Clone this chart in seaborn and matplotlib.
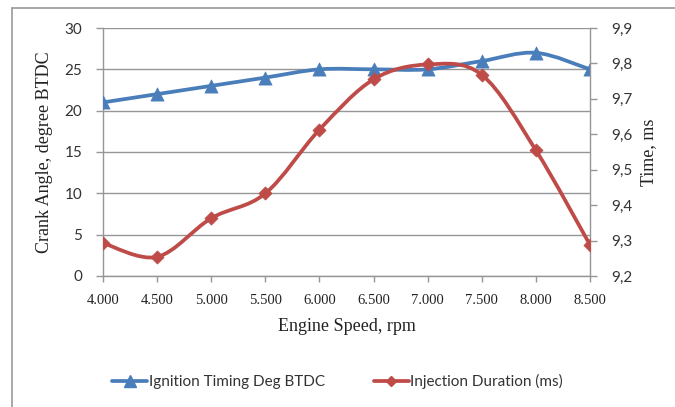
import numpy as np
import pandas as pd
import matplotlib
matplotlib.use("Agg")
import matplotlib.pyplot as plt
import seaborn as sns
from matplotlib.path import Path
from matplotlib.patches import PathPatch
from matplotlib.lines import Line2D

# ---- data ----
engine_speed = [4000, 4500, 5000, 5500, 6000, 6500, 7000, 7500, 8000, 8500]
speed_labels = ["4.000", "4.500", "5.000", "5.500", "6.000", "6.500", "7.000", "7.500", "8.000", "8.500"]
ignition_timing = [21, 22, 23, 24, 25, 25, 25, 26, 27, 25]
injection_duration = [9.293, 9.254, 9.363, 9.433, 9.613, 9.755, 9.797, 9.768, 9.555, 9.288]
left_ticks = [0, 5, 10, 15, 20, 25, 30]
right_ticks = [9.2, 9.3, 9.4, 9.5, 9.6, 9.7, 9.8, 9.9]
right_labels = ["9,2", "9,3", "9,4", "9,5", "9,6", "9,7", "9,8", "9,9"]

df = pd.DataFrame({"speed": engine_speed, "ign": ignition_timing, "inj": injection_duration})

BLUE = "#4A7EBB"
RED = "#BE4B48"
GRID = "#969696"
SERIF = "Liberation Serif"
SANS = "Lato"

sns.set_theme(style="white")
plt.rcParams["font.family"] = ["Liberation Serif", "DejaVu Sans"]

fig = plt.figure(figsize=(6.75, 4.07), dpi=100)
ax = fig.add_axes([0.1526, 0.3219, 0.874 - 0.1526, 0.9312 - 0.3219])
ax2 = ax.twinx()


def smooth_path(ax_, xs, ys, color, lw, z):
    xs = np.asarray(xs, float)
    ys = np.asarray(ys, float)
    pts = np.column_stack([xs, ys])
    n = len(pts)
    verts = [pts[0]]
    codes = [Path.MOVETO]
    for i in range(n - 1):
        p0 = pts[max(i - 1, 0)]
        p1 = pts[i]
        p2 = pts[i + 1]
        p3 = pts[min(i + 2, n - 1)]
        c1 = p1 + (p2 - p0) / 6.0
        c2 = p2 - (p3 - p1) / 6.0
        verts += [c1, c2, p2]
        codes += [Path.CURVE4] * 3
    patch = PathPatch(Path(verts, codes), facecolor="none", edgecolor=color,
                      lw=lw, transform=ax_.transData, zorder=z, capstyle="round",
                      joinstyle="round")
    ax_.add_patch(patch)


# gridlines
ax.set_ylim(0, 30)
ax.set_xlim(4000, 8500)
ax.set_yticks(left_ticks)
ax.yaxis.grid(True, color=GRID, lw=1.0)
ax.xaxis.grid(False)
ax.set_axisbelow(True)

# ignition timing (primary axis)
smooth_path(ax, df["speed"], df["ign"], BLUE, 2.7, 3)
sns.scatterplot(data=df, x="speed", y="ign", ax=ax, marker="^", s=90,
                color=BLUE, edgecolor=BLUE, linewidth=0.5, zorder=4, legend=False)

# injection duration (secondary axis)
ax2.set_ylim(9.2, 9.9)
smooth_path(ax2, df["speed"], df["inj"], RED, 2.7, 3)
sns.scatterplot(data=df, x="speed", y="inj", ax=ax2, marker="D", s=45,
                color=RED, edgecolor=RED, linewidth=0.5, zorder=4, legend=False)
ax2.set_xlim(4000, 8500)

# axes styling
for a in (ax, ax2):
    for s in a.spines.values():
        s.set_visible(False)
ax.spines["left"].set_visible(True)
ax.spines["bottom"].set_visible(True)
ax2.spines["right"].set_visible(True)
for s in (ax.spines["left"], ax.spines["bottom"], ax2.spines["right"]):
    s.set_color(GRID)
    s.set_linewidth(1.0)

ax.set_xticks(engine_speed)
ax.set_xticklabels(speed_labels, fontfamily=SERIF, fontsize=10.5, color="#222222")
ax.set_yticks(left_ticks)
ax.set_yticklabels([str(t) for t in left_ticks], fontfamily=SANS, fontsize=11, color="#333333")
ax2.set_yticks(right_ticks)
ax2.set_yticklabels(right_labels, fontfamily=SANS, fontsize=11, color="#333333")
ax2.grid(False)

ax.tick_params(axis="x", direction="out", length=4, width=1, color=GRID, pad=9, bottom=True)
ax.tick_params(axis="y", direction="out", length=5, width=1, color=GRID, pad=10, left=True)
ax2.tick_params(axis="y", direction="out", length=5, width=1, color=GRID, pad=10, right=True)

ax.set_xlabel("Engine Speed, rpm", fontfamily=SERIF, fontsize=13, color="#222222", labelpad=8)
ax.set_ylabel("Crank Angle, degree BTDC", fontfamily=SERIF, fontsize=13, color="#222222", labelpad=8)
ax2.set_ylabel("Time, ms", fontfamily=SERIF, fontsize=13, color="#222222", labelpad=6)

# legend
handles = [
    Line2D([0], [0], color=BLUE, lw=2.7, marker="^", markersize=8, label="Ignition Timing Deg BTDC"),
    Line2D([0], [0], color=RED, lw=2.7, marker="D", markersize=5.5, label="Injection Duration (ms)"),
]
leg = fig.legend(handles=handles, loc="center", bbox_to_anchor=(0.5, 0.063), ncol=2,
                 frameon=False, handlelength=2.3, handletextpad=0.1, columnspacing=3.2,
                 prop={"family": SANS, "size": 11})
for t in leg.get_texts():
    t.set_color("#333333")

# outer chart border (top and left visible)
fig.add_artist(Line2D([12 / 675, 12 / 675], [0, 1 - 8 / 407], color="#9A9A9A", lw=1.2,
                      transform=fig.transFigure))
fig.add_artist(Line2D([12 / 675, 1], [1 - 8 / 407, 1 - 8 / 407], color="#9A9A9A", lw=1.2,
                      transform=fig.transFigure))

fig.savefig("out.png", dpi=100, facecolor="white")
